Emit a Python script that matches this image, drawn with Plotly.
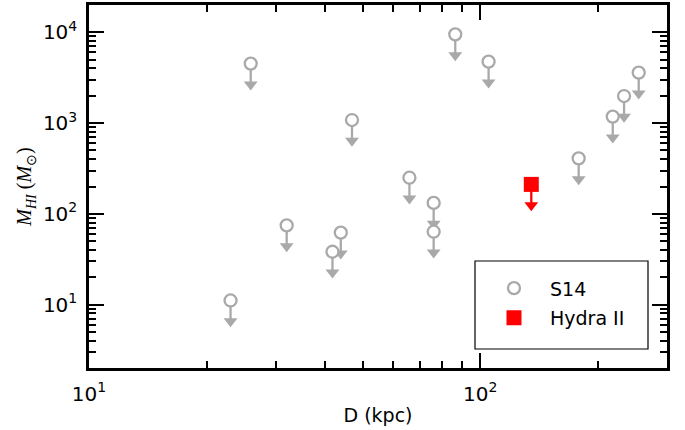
import plotly.graph_objects as go
import numpy as np

# S14 upper limits
d_s14 = [23.0, 25.9, 32.0, 41.9, 44.0, 47.0, 65.9, 76.0, 76.0, 86.3, 105.0, 178.4, 218.0, 233.0, 254.0]
m_s14 = [11.1, 4520, 74.5, 38.2, 62.0, 1080, 250, 132, 63.5, 9500, 4750, 408, 1178, 1986, 3595]
# Hydra II upper limit
d_hyd = [135.0]
m_hyd = [211.0]

x_ticks = [10, 100]
x_ticktext = ["10<sup>1</sup>", "10<sup>2</sup>"]
y_ticks = [10, 100, 1000, 10000]
y_ticktext = ["10<sup>1</sup>", "10<sup>2</sup>", "10<sup>3</sup>", "10<sup>4</sup>"]

ARROW = 0.59  # arrow head position as fraction of the limit value
GRAY = "#a9a9a9"
RED = "#ff0000"

def arrows(d, m, color):
    m = np.array(m, dtype=float)
    tip = m * ARROW
    line = go.Scatter(
        x=d, y=m, mode="markers", showlegend=False, hoverinfo="skip",
        marker=dict(size=1, opacity=0),
        error_y=dict(type="data", symmetric=False, array=[0] * len(m),
                     arrayminus=list(m - tip), color=color, thickness=2.3, width=0),
    )
    head = go.Scatter(
        x=d, y=list(tip), mode="markers", showlegend=False, hoverinfo="skip",
        marker=dict(symbol="triangle-down", size=12, color=color, line=dict(width=0)),
    )
    return [line, head]

fig = go.Figure()
for t in arrows(d_s14, m_s14, GRAY):
    fig.add_trace(t)
for t in arrows(d_hyd, m_hyd, RED):
    fig.add_trace(t)

fig.add_trace(go.Scatter(
    x=d_s14, y=m_s14, mode="markers", name="S14", legendgroup="a",
    marker=dict(symbol="circle", size=12, color="white", line=dict(color=GRAY, width=2.3)),
))
fig.add_trace(go.Scatter(
    x=d_hyd, y=m_hyd, mode="markers", name="Hydra II", legendgroup="b",
    marker=dict(symbol="square", size=15, color=RED, line=dict(width=0)),
))

x_minor = list(range(20, 100, 10)) + [200, 300]
y_minor = [k * 10 ** e for e in range(0, 5) for k in range(2, 10) if 2 <= k * 10 ** e <= 20000]

font = dict(family="DejaVu Sans", size=20, color="black")

axis_common = dict(
    type="log", showgrid=False, zeroline=False, automargin=False,
    showline=True, linecolor="black", linewidth=2.5, mirror="allticks",
    ticks="inside", ticklen=15, tickwidth=2, tickcolor="black",
    tickmode="array", tickfont=font,
)

fig.update_xaxes(
    **axis_common,
    range=[1, np.log10(300)],
    tickvals=x_ticks, ticktext=x_ticktext,
    minor=dict(tickmode="array", tickvals=x_minor, ticks="inside", ticklen=7.5,
               tickwidth=1.5, tickcolor="black", showgrid=False),
    title=dict(text="D (kpc)", font=dict(family="DejaVu Sans", size=19, color="black"), standoff=4),
    ticklabelstandoff=6,
)
fig.update_yaxes(
    **axis_common,
    range=[np.log10(2), np.log10(20000)],
    tickvals=y_ticks, ticktext=y_ticktext,
    minor=dict(tickmode="array", tickvals=y_minor, ticks="inside", ticklen=7.5,
               tickwidth=1.5, tickcolor="black", showgrid=False),
    title=dict(text="<i>M</i><sub><i>HI</i></sub> (<i>M</i><sub>⊙</sub>)",
               font=dict(family="Liberation Serif", size=20, color="black"), standoff=6),
    ticklabelstandoff=5,
)

fig.update_layout(
    width=685, height=430,
    margin=dict(l=89, r=18, t=5, b=62),
    paper_bgcolor="white", plot_bgcolor="white",
    showlegend=True,
    legend=dict(
        x=0.673, y=0.272, xanchor="left", yanchor="top",
        bgcolor="rgba(0,0,0,0)", borderwidth=0,
        font=dict(family="DejaVu Sans", size=19, color="black"),
        traceorder="grouped", tracegroupgap=2,
        itemwidth=62,
    ),
    shapes=[dict(type="rect", xref="paper", yref="paper",
                 x0=(475 - 89) / 578, x1=(648 - 89) / 578,
                 y0=(368 - 349) / 363, y1=(368 - 261) / 363,
                 line=dict(color="black", width=1.2), fillcolor="rgba(0,0,0,0)")],
)

fig.write_html("out.html", config={"displayModeBar": False},
               post_script="document.body.style.margin='0px';")
